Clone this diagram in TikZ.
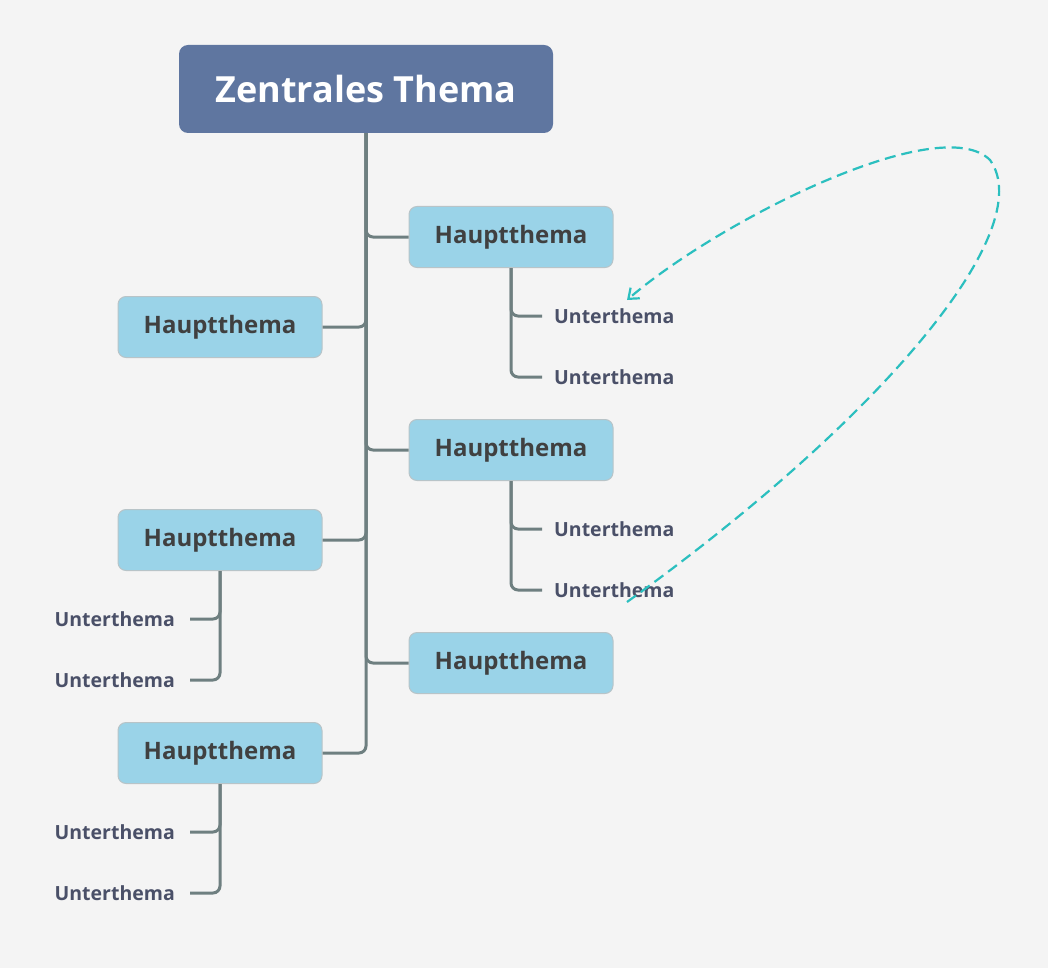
\documentclass[tikz,border=0pt]{standalone}
\usepackage{fontspec}
\setmainfont{Open Sans}
\usetikzlibrary{arrows.meta}
\definecolor{bg}{HTML}{F4F4F4}
\definecolor{cent}{HTML}{5F76A0}
\definecolor{hbox}{HTML}{9AD3E8}
\definecolor{hbord}{HTML}{B8C4C8}
\definecolor{lnc}{HTML}{6E7F80}
\definecolor{htxt}{HTML}{404040}
\definecolor{utxt}{HTML}{4A5068}
\definecolor{teal}{HTML}{2BBFBF}
\begin{document}
\begin{tikzpicture}[x=1pt,y=-1pt,
  central/.style={fill=cent,rounded corners=9pt,minimum width=374pt,minimum height=88pt,text=white,font=\fontsize{36}{40}\selectfont\bfseries},
  haupt/.style={fill=hbox,draw=hbord,line width=1pt,rounded corners=8pt,minimum width=204pt,minimum height=61pt,text=htxt,font=\fontsize{24}{28}\selectfont\bfseries},
  unter/.style={text=utxt,font=\fontsize{19.5}{22}\selectfont\bfseries,inner sep=0pt},
  conn/.style={draw=lnc,line width=3pt,rounded corners=7pt},
  rel/.style={draw=teal,line width=2.2pt,dash pattern=on 11pt off 6pt,-{Straight Barb[length=9pt,width=14pt]}}]
\fill[bg] (0,0) rectangle (1048,968);
\useasboundingbox (0,0) rectangle (1048,968);
\node[central] (c) at (366,89) {Zentrales Thema};
\node[haupt] (r1) at (511,237) {Hauptthema};
\node[haupt] (r2) at (511,450) {Hauptthema};
\node[haupt] (r3) at (511,663) {Hauptthema};
\node[haupt] (l1) at (220,327) {Hauptthema};
\node[haupt] (l2) at (220,540) {Hauptthema};
\node[haupt] (l3) at (220,753) {Hauptthema};
\node[unter,anchor=west] (u1) at (554,316) {Unterthema};
\node[unter,anchor=west] (u2) at (554,377) {Unterthema};
\node[unter,anchor=west] (u3) at (554,529) {Unterthema};
\node[unter,anchor=west] (u4) at (554,590) {Unterthema};
\node[unter,anchor=east] (u5) at (175,619) {Unterthema};
\node[unter,anchor=east] (u6) at (175,680) {Unterthema};
\node[unter,anchor=east] (u7) at (175,832) {Unterthema};
\node[unter,anchor=east] (u8) at (175,893) {Unterthema};
\draw[conn] (c.south) |- (r1.west);
\draw[conn] (c.south) |- (r2.west);
\draw[conn] (c.south) |- (r3.west);
\draw[conn] (c.south) |- (l1.east);
\draw[conn] (c.south) |- (l2.east);
\draw[conn] (c.south) |- (l3.east);
\draw[conn] (r1.south) |- ([xshift=-12pt]u1.west);
\draw[conn] (r1.south) |- ([xshift=-12pt]u2.west);
\draw[conn] (r2.south) |- ([xshift=-12pt]u3.west);
\draw[conn] (r2.south) |- ([xshift=-12pt]u4.west);
\draw[conn] (l2.south) |- ([xshift=15pt]u5.east);
\draw[conn] (l2.south) |- ([xshift=15pt]u6.east);
\draw[conn] (l3.south) |- ([xshift=15pt]u7.east);
\draw[conn] (l3.south) |- ([xshift=15pt]u8.east);
\coordinate (s) at (627,602);
\coordinate (e) at (627,300);
\path[rel] (s) .. controls (880,420) and (1040,230) .. (990,160) .. controls (940,110) and (720,220) .. (e);
\end{tikzpicture}
\end{document}
